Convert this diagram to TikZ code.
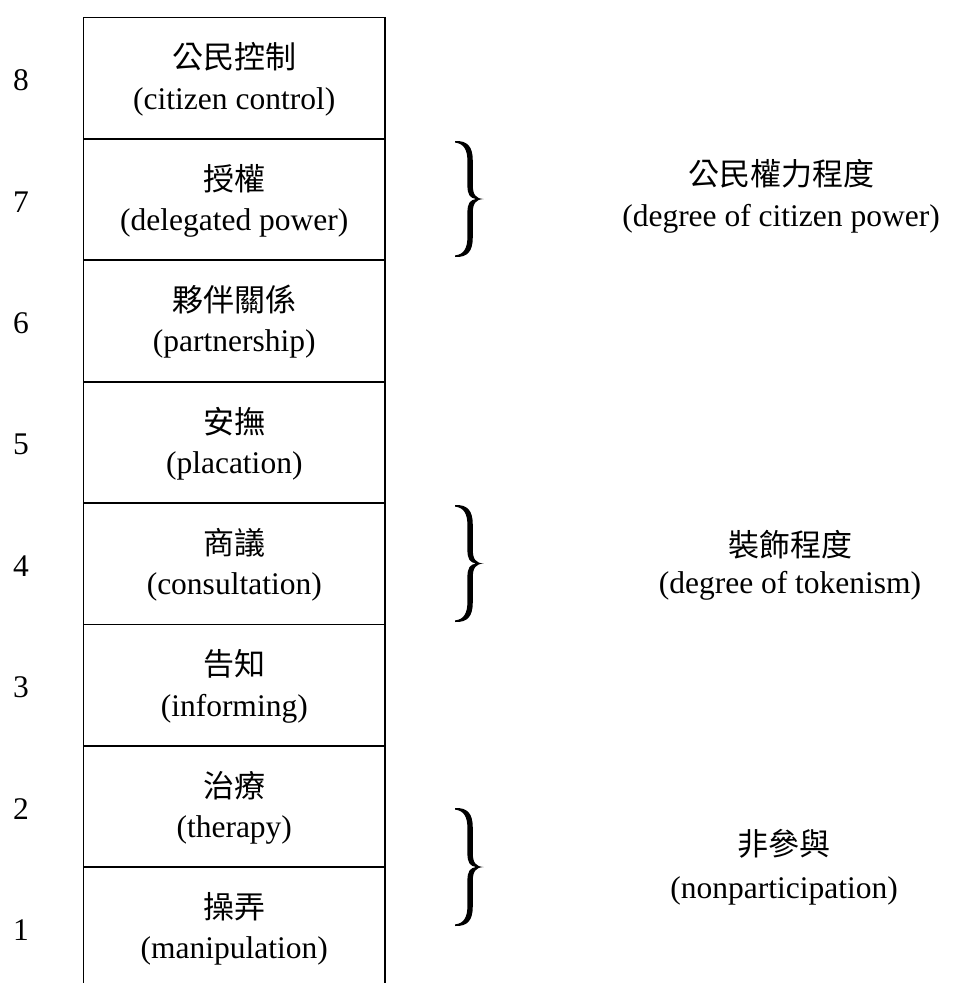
\documentclass[tikz,border=0pt]{standalone}
\usepackage{fontspec}
\setmainfont{Liberation Serif}
\newfontfamily\cjk{Noto Sans CJK TC}
\begin{document}
\begin{tikzpicture}[x=1pt,y=-1pt,
  stepbox/.style={draw, line width=1.9pt, minimum width=301.5pt, minimum height=121.4pt, inner sep=0pt},
  entxt/.style={inner sep=0pt, font=\fontsize{31.5}{36}\selectfont},
  zhtxt/.style={inner sep=0pt, font=\fontsize{31}{36}\selectfont\cjk},
  rbrace/.pic={
    \fill ({0},{-#1}) .. controls (13,{-#1-0.5}) and (17.8,{-#1+6}) .. (17.8,{-#1+20})
      -- (17.8,-14) .. controls (17.8,-4) and (21,-0.5) .. (28.5,0)
      .. controls (21,0.5) and (17.8,4) .. (17.8,14)
      -- (17.8,{#1-20}) .. controls (17.8,{#1-6}) and (13,{#1+0.5}) .. ({0},{#1})
      -- ({0},{#1-1.6}) .. controls (9,{#1-2.5}) and (12.4,{#1-9}) .. (12.4,{#1-20})
      -- (12.4,14) .. controls (12.4,4) and (15,1) .. (21,0)
      .. controls (15,-1) and (12.4,-4) .. (12.4,-14)
      -- (12.4,{-#1+20}) .. controls (12.4,{-#1+9}) and (9,{-#1+2.5}) .. ({0},{-#1+1.6})
      -- cycle;
  }]
\useasboundingbox (0,0) rectangle (955,983);
\clip (0,0) rectangle (955,983);
\fill[white] (0,0) rectangle (955,983);
\foreach \k/\zh/\en in {8/公民控制/citizen control, 7/授權/delegated power,
  6/夥伴關係/partnership, 5/安撫/placation, 4/商議/consultation,
  3/告知/informing, 2/治療/therapy, 1/操弄/manipulation}{
  \pgfmathsetmacro{\top}{17.5+(8-\k)*121.4}
  \node[stepbox] (box\k) at (234.25,{\top+60.7}) {};
  \node[entxt] (num\k) at (21,{\top+63}) {\k};
  \node[zhtxt] (zh\k) at (234.25,{\top+39.5}) {\zh};
  \node[entxt] (en\k) at (234.25,{\top+84}) {(\en)};
}
\pic at (455,199) {rbrace=58};
\pic at (455,563.5) {rbrace=58.5};
\pic at (455,867) {rbrace=59};
\node[zhtxt] (lzh1) at (781,174) {公民權力程度};
\node[entxt] (len1) at (781,219) {(degree of citizen power)};
\node[zhtxt] (lzh2) at (790,545) {裝飾程度};
\node[entxt] (len2) at (790,586) {(degree of tokenism)};
\node[zhtxt] (lzh3) at (784,844) {非參與};
\node[entxt] (len3) at (784,891) {(nonparticipation)};
\end{tikzpicture}
\end{document}
